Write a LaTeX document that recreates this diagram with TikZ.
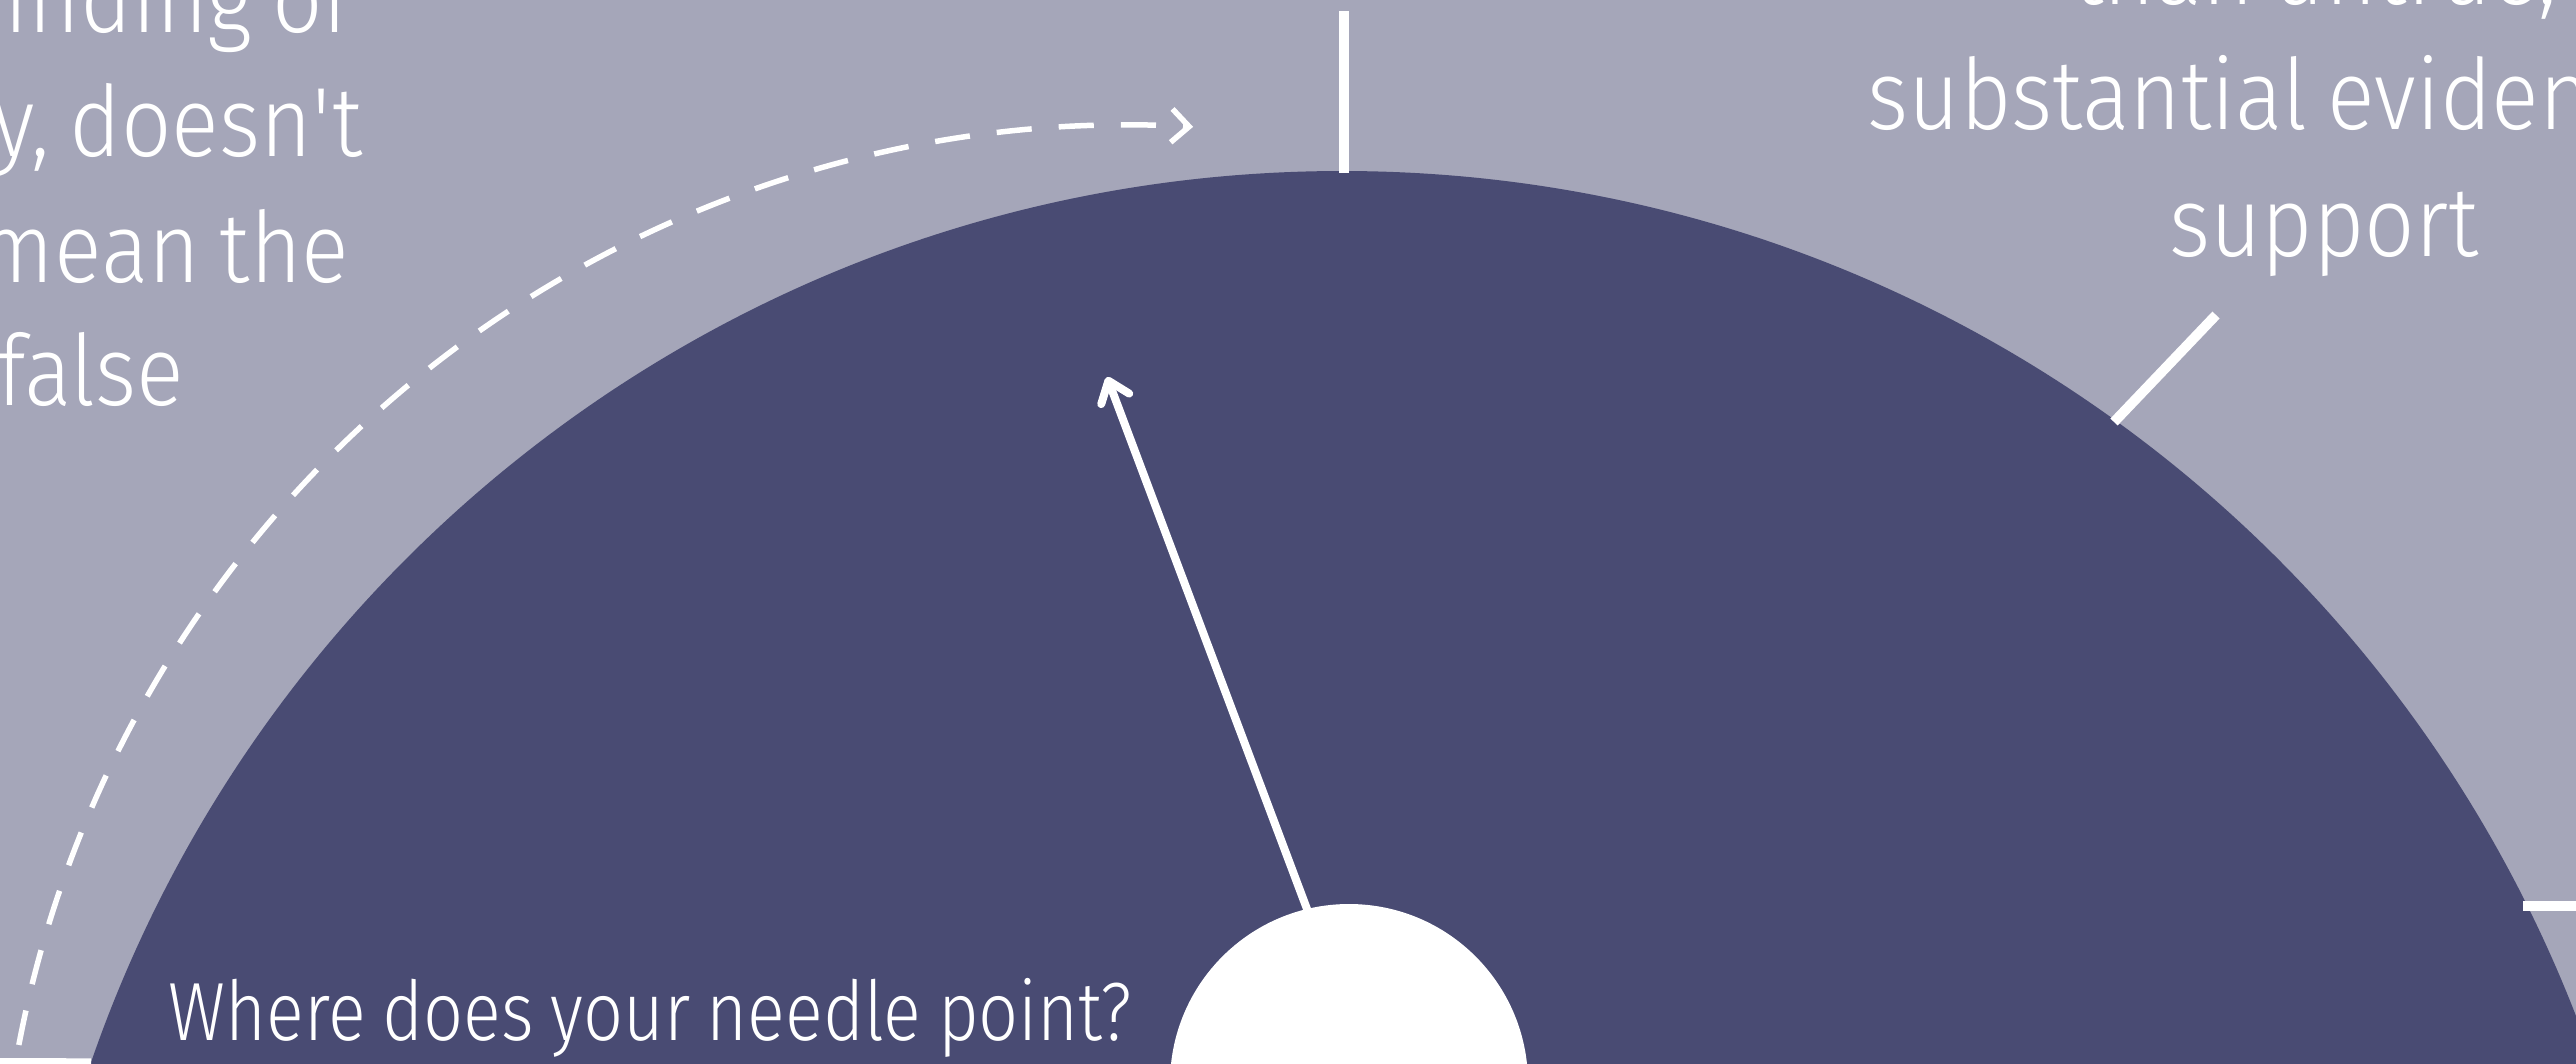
\documentclass[tikz,border=0pt]{standalone}
\usepackage{fontspec}
\setmainfont{Fira Sans Light}
\newfontfamily\capfont{Fira Sans Light}[FakeStretch=0.9,WordSpace=0.8]
\newfontfamily\askfont{Fira Sans Light}[FakeStretch=0.85,WordSpace=0.85]
\usetikzlibrary{arrows.meta}
\definecolor{dialbg}{RGB}{165,166,185}
\definecolor{dialface}{RGB}{73,75,115}
\tikzset{tick/.style={white,line width=1mm},
  needle/.style={white,line width=0.8mm,line cap=round,-{Straight Barb[length=5.5pt,width=8.5pt,line cap=round,line join=round]}},
  guide/.style={white,line width=0.55mm,dash pattern=on 10pt off 7.7pt,-{Straight Barb[length=5pt,width=9.5pt,line cap=butt,line join=miter]}},
  caption/.style={text=white,inner sep=0pt,font=\capfont\fontsize{28}{34}\selectfont},
  question/.style={text=white,inner sep=0pt,font=\askfont\fontsize{23.5}{28}\selectfont}}
\begin{document}
\begin{tikzpicture}[x=0.1mm,y=0.1mm]
\useasboundingbox (0,0) rectangle (2576,1063);
\clip (0,0) rectangle (2576,1063);
\fill[dialbg] (0,0) rectangle (2576,1063);
% dial face and ticks
\node[circle,fill=dialface,minimum size=264.6mm,inner sep=0pt,outer sep=0pt] (dial) at (1342,-431) {};
\coordinate (s1) at (1344,890);\coordinate (s2) at (2114,641);\coordinate (s3) at (2523,157);\coordinate (s4) at (dial.161);
\coordinate (t1) at (1344,1052);\coordinate (t2) at (2216,748);\coordinate (t3) at (2620,157);\coordinate (t4) at (-40,0);
\foreach \i in {1,...,4}{\draw[tick] (s\i)--(t\i);}
% dashed guide arc
\coordinate (arcstart) at (3.3,-291.6);
\draw[guide] (arcstart) arc[start angle=185,end angle=86.8,radius=1131];
% needle and hub
\coordinate (pivot) at (1366,-3);\coordinate (tip) at (1107,686);
\draw[needle] (pivot)--(tip);
\node[circle,fill=white,minimum size=35.8mm,inner sep=0pt] (hub) at (1349,-20) {};
% labels
\foreach \t/\x/\y [count=\i] in {finding of/352/1031,{y, doesn\textquotesingle t}/363/907,mean the/350/781,false/185/658}{\node[caption,anchor=base east] (left\i) at (\x,\y) {\t};}
\node[caption,anchor=base east] (right1) at (2557,1058.5) {than untrue,};
\node[caption,anchor=base west] (right2) at (1867,934) {substantial eviden};
\node[caption,anchor=base] (right3) at (2324,807) {support};
\node[question,anchor=base west] (ask) at (168,23) {Where does your needle point?};
\end{tikzpicture}
\end{document}
